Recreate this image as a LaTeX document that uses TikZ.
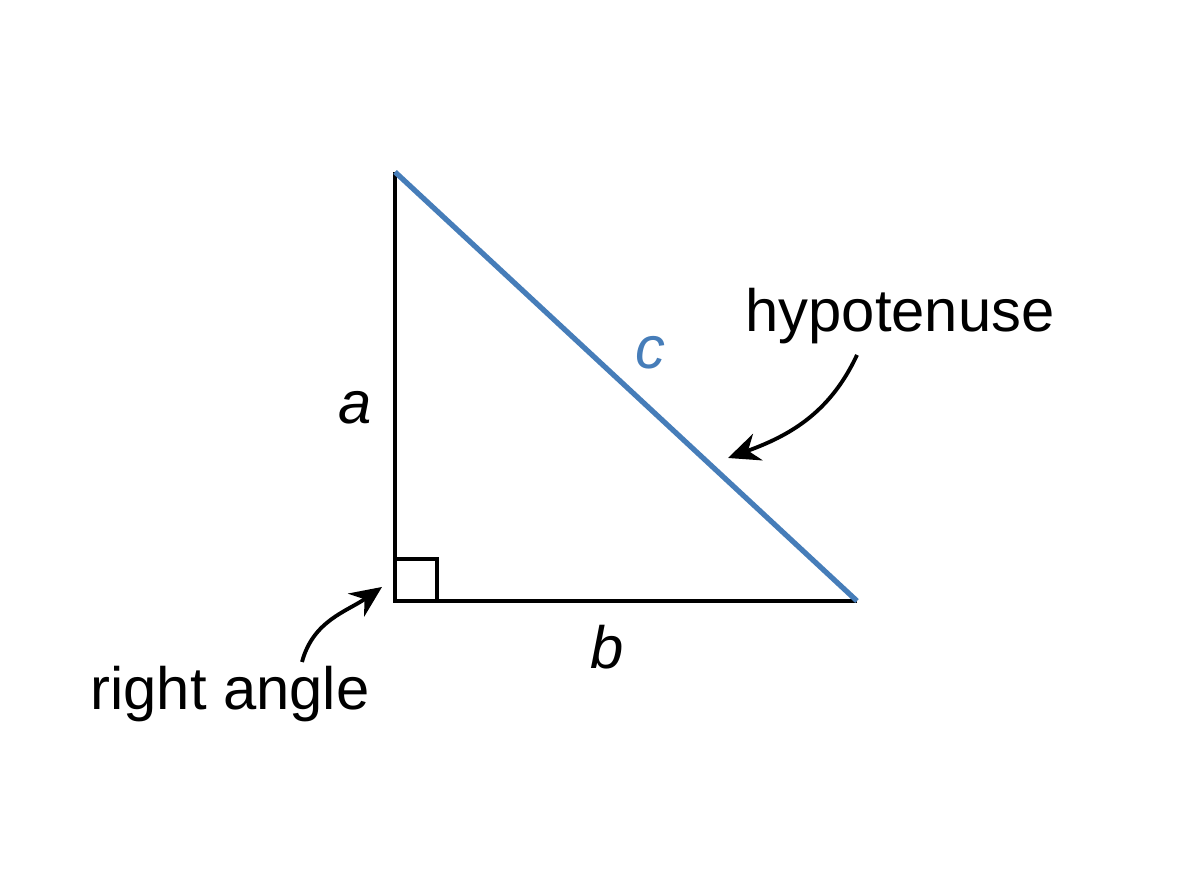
\documentclass[tikz,border=0pt]{standalone}
\usepackage{fontspec}
\setmainfont{Liberation Sans}
\usetikzlibrary{arrows.meta}
\definecolor{hypblue}{RGB}{70,125,185}
\begin{document}
\begin{tikzpicture}[
  lbl/.style={font=\fontsize{17}{20}\selectfont},
  pointer/.style={line width=1.1pt,-{Stealth[length=9pt,width=8pt]}}]
\useasboundingbox (0,0) rectangle (12,8.96);
\coordinate (TP) at (3.95, 7.24); % top
\coordinate (RA) at (3.95, 2.95); % right angle corner
\coordinate (RT) at (8.57, 2.95); % right end
\draw[line width=1pt] (RT) -- (RA) -- (TP);
\draw[hypblue, line width=1.5pt] (TP) -- (RT);
\draw[line width=0.9pt] (3.95,3.37) -- (4.37,3.37) -- (4.37,2.95);
\node[lbl] (la) at (3.55, 4.88) {\textit{a}};
\node[lbl] (lb) at (6.07, 2.49) {\textit{b}};
\node[lbl, hypblue] (lc) at (6.50, 5.43) {\textit{c}};
\node[lbl] (hyp) at (9.00, 5.80) {hypotenuse};
\node[lbl] (ang) at (2.30, 2.02) {right angle};
\coordinate (HE) at (7.28, 4.38);
\coordinate (AE) at (3.82, 3.09);
\draw[pointer] (8.57,5.41) to[out=-115,in=20] (HE);
\draw[pointer] (3.02,2.34) to[out=75,in=-145] (AE);
\end{tikzpicture}
\end{document}
